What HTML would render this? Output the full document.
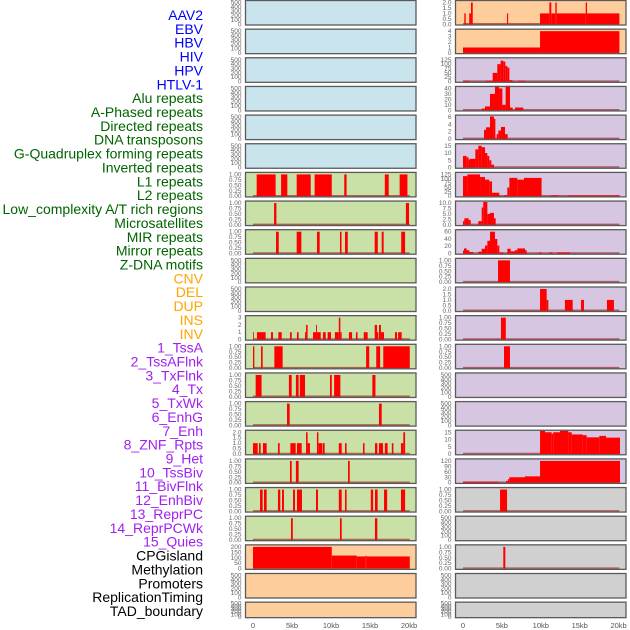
<!DOCTYPE html>
<html><head><meta charset="utf-8"><style>
body{margin:0;background:#fff;width:630px;height:630px;overflow:hidden;font-family:"Liberation Sans",sans-serif}
svg{display:block}
</style></head><body>
<svg id="chart" width="630" height="630"></svg>
<script>
const labels=["AAV2","EBV","HBV","HIV","HPV","HTLV-1","Alu repeats","A-Phased repeats","Directed repeats","DNA transposons","G-Quadruplex forming repeats","Inverted repeats","L1 repeats","L2 repeats","Low_complexity A/T rich regions","Microsatellites","MIR repeats","Mirror repeats","Z-DNA motifs","CNV","DEL","DUP","INS","INV","1_TssA","2_TssAFlnk","3_TxFlnk","4_Tx","5_TxWk","6_EnhG","7_Enh","8_ZNF_Rpts","9_Het","10_TssBiv","11_BivFlnk","12_EnhBiv","13_ReprPC","14_ReprPCWk","15_Quies","CPGisland","Methylation","Promoters","ReplicationTiming","TAD_boundary"];
const labelGroups=[6,13,5,15,5];
const groupColors=["#0000ff","#006400","#ffa500","#a020f0","#000000"];
const xTicks=[0,5,10,15,20];
const xTickLabels=["0","5kb","10kb","15kb","20kb"];
const T500=[0,100,200,300,400,500], T1=[0,0.25,0.5,0.75,1], T2=[0,0.5,1,1.5,2];
const leftTicks=[T500,T500,T500,T500,T500,T500,T1,T1,T1,T500,T500,[0,1,2,3],T1,T1,T1,T2,T1,T1,T1,[0,50,100,150,200],T500,T500];
const rightTicks=[T2,[0,1,2,3,4],[0,25,50,75,100,125],[0,10,20,30,40],[0,2,4,6],[0,5,10,15],[0,25,50,75,100,125],[0,2.5,5,7.5,10],[0,20,40,60],T1,T2,T1,T1,T500,T500,[0,5,10,15],[0,30,60,90,120],T1,T500,T1,T500,T500];
const leftBg=["#c9e4ec","#c9e4ec","#c9e4ec","#c9e4ec","#c9e4ec","#c9e4ec","#c9e1a6","#c9e1a6","#c9e1a6","#c9e1a6","#c9e1a6","#c9e1a6","#c9e1a6","#c9e1a6","#c9e1a6","#c9e1a6","#c9e1a6","#c9e1a6","#c9e1a6","#fecd9c","#fecd9c","#fecd9c"];
const rightBg=["#fecd9c","#fecd9c","#d6c6e2","#d6c6e2","#d6c6e2","#d6c6e2","#d6c6e2","#d6c6e2","#d6c6e2","#d6c6e2","#d6c6e2","#d6c6e2","#d6c6e2","#d6c6e2","#d6c6e2","#d6c6e2","#d6c6e2","#d0d0d0","#d0d0d0","#d0d0d0","#d0d0d0","#d0d0d0"];
const leftBars=[[],[],[],[],[],[],
[[0.47,2.9,1],[3.6,4.4,1],[5.6,7.4,1],[7.9,10.1,1],[11.7,12.0,1],[16.9,17.4,1],[18.8,19.8,1]],
[[2.7,3.0,1],[19.6,20.0,1]],
[[2.95,3.3,1],[5.6,6.2,1],[8.2,8.55,1],[11.15,11.35,1],[11.8,12.15,1],[15.6,16.0,1],[16.5,16.75,1],[19.0,19.5,1]],
[],[],
[[0,0.09,1],[0.51,1.62,1],[2.31,2.56,1],[3.25,3.68,1],[4.74,4.96,1],[5.64,5.85,1],[6.67,6.8,1],[6.8,7.0,2],[7.7,8.08,1],[8.08,8.2,2],[8.2,8.68,1],[8.97,9.32,1],[9.57,10.0,1],[10.5,11.0,1],[11.0,11.2,3],[11.2,11.37,1],[12.3,12.7,1],[13.2,13.4,1],[14.2,14.7,1],[15.6,15.9,2],[15.9,16.07,1],[16.15,16.4,2],[16.4,16.8,1],[18.2,18.46,1],[18.6,19.06,1]],
[[0,0.17,1],[1.03,1.24,1],[2.74,3.8,1],[14.5,14.9,1],[15.8,16.3,1],[16.7,20.1,1]],
[[0.34,1.1,1],[4.6,4.96,1],[5.5,5.85,1],[6.0,6.67,1],[9.87,10.1,1],[10.4,11.2,1],[15.3,15.7,1]],
[[4.36,4.7,1],[16.15,16.5,1]],
[[0,0.6,1],[0.77,0.98,1],[1.28,1.75,1],[3.2,3.42,1],[4.79,5.47,1],[5.64,6.24,1],[6.8,7.0,2],[7.0,7.3,1],[8.2,8.38,2],[8.38,8.9,1],[8.97,9.19,1],[11.0,11.37,1],[11.8,12.0,1],[14.1,14.3,1],[15.64,15.94,1],[16.15,16.67,1],[16.9,17.26,1],[17.8,18.0,1],[18.97,19.27,1],[19.27,19.5,2]],
[[4.74,4.96,1],[5.5,5.85,1],[12.18,12.4,1]],
[[0.9,1.24,1],[1.41,1.75,1],[3.2,3.5,1],[3.72,3.97,1],[5.13,5.38,1],[5.64,6.28,1],[8.08,8.33,1],[11.0,11.37,1],[11.8,12.0,1],[15.1,15.4,1],[15.64,15.98,1],[16.8,17.2,1],[18.97,19.5,1]],
[[4.87,5.1,1],[11.15,11.37,1],[15.64,15.94,1]],
[[0,10.1,200],[10.1,13.3,120],[13.3,14.4,112],[14.4,14.6,117],[14.6,20.1,112]],
[],[]];
const rightBars=[
[[0.17,0.35,1],[0.8,1.03,1],[1.03,1.25,2],[5.65,5.8,1],[9.9,11.1,1],[11.1,11.35,2],[11.35,11.87,1],[11.87,12.05,2],[12.05,15.77,1],[15.77,15.94,2],[15.94,20.1,1]],
[[0,9.9,1],[9.9,20.1,4]],
[[0,0.77,5],[2.96,3.81,5],[3.81,4.41,50],[4.41,4.84,100],[4.84,5.18,120],[5.18,5.44,115],[5.44,5.7,90],[5.7,5.96,80],[5.96,6.38,8],[7.07,7.97,5]],
[[2.4,2.83,3],[2.83,3.47,7],[3.47,4.11,30],[4.11,4.63,45],[4.63,5.06,40],[5.06,5.48,10],[5.48,6.04,45],[6.04,6.38,5],[6.68,7.75,5]],
[[2.7,2.96,2.5],[2.96,3.47,3.2],[3.47,3.98,6.2],[3.98,4.16,5.5],[4.33,4.54,1.3],[4.54,4.88,2.3],[4.88,5.4,3.3],[5.4,5.74,1.3]],
[[0,0.47,8],[0.47,0.73,7],[0.73,0.9,5.5],[0.9,1.59,6],[1.59,1.97,12.5],[1.97,2.4,15],[2.4,2.83,14],[2.83,3.13,10],[3.13,3.38,8],[3.38,3.64,5],[3.64,3.98,2]],
[[0,0.56,115],[0.56,2.19,125],[2.19,2.83,110],[2.83,3.38,95],[3.38,3.73,85],[3.73,4.67,20],[5.27,5.7,5],[5.7,5.96,50],[5.96,6.98,105],[6.98,7.84,95],[7.84,10.1,105],[11.3,12.3,5],[13.5,20.2,4]],
[[0,0.17,1.7],[0.17,0.73,3],[0.73,0.99,2.2],[1.97,2.4,1.7],[2.4,2.6,8],[2.6,3.13,10.5],[3.13,3.47,5],[3.47,3.98,5.5],[3.98,4.2,3]],
[[0,0.13,8],[0.13,0.47,14],[0.47,0.81,9],[0.81,1.33,4],[1.97,2.4,5],[2.4,2.83,13],[2.83,3.13,22],[3.13,3.47,35],[3.47,4.11,60],[4.11,4.41,40],[4.41,4.67,22],[4.67,5.18,3],[5.7,6.13,13],[6.13,6.68,6],[6.68,6.98,9],[6.98,7.97,14],[7.97,8.18,9],[9.77,10.1,3],[11.05,11.5,3],[12.08,13.75,3]],
[[4.5,6.04,1]],
[[9.9,10.75,2],[10.75,10.97,1],[13.1,14.1,1],[15.17,15.55,1],[18.5,19.4,1]],
[[4.88,5.5,1]],
[[5.27,6.04,1]],
[],[],
[[9.9,10.54,16],[10.54,11.4,15],[11.4,11.6,14],[11.6,12.47,15],[12.47,13.54,16],[13.54,13.97,15],[13.97,15.38,13.5],[15.38,15.9,13],[15.9,17.52,11.5],[17.52,18.38,12.5],[18.38,20.18,11.3]],
[[0,4.63,6],[5.53,5.78,10],[5.78,5.95,20],[5.95,7.97,30],[7.97,9.9,35],[9.9,20.18,120]],
[[4.76,5.66,1]],
[],
[[5.18,5.44,1]],
[],[]];
const leftBase=[6,7,8,11,12,13,14,15,16,17,18];
const rightBase=[0,2,3,4,5,6,7,8,9,10,11,12,15,16,17,19];

const NS="http://www.w3.org/2000/svg";
const svg=document.getElementById('chart');
function mk(tag,attrs,parent){const e=document.createElementNS(NS,tag);for(const k in attrs)e.setAttribute(k,attrs[k]);(parent||svg).appendChild(e);return e;}
function fmt(v,ticks){const dec=ticks.some(t=>t%1!==0);if(!dec)return String(v);const d=ticks.some(t=>t%0.5!==0&&Math.abs(t*4-Math.round(t*4))<1e-9&&t<2)?2:1;return v.toFixed(d);}

let li=0;
labelGroups.forEach((n,g)=>{for(let k=0;k<n;k++){const t=mk('text',{x:203,y:20+li*13.86,'text-anchor':'end','font-size':'14',fill:groupColors[g]});t.textContent=labels[li];

li++;}});

const cols=[{x0:245.5,x1:416,z:253,s:7.8,ticks:leftTicks,bg:leftBg,bars:leftBars,base:leftBase,name:'left'},
{x0:455.5,x1:626,z:463,s:7.78,ticks:rightTicks,bg:rightBg,bars:rightBars,base:rightBase,name:'right'}];
cols.forEach(c=>{
 const xs=kb=>c.z+kb*c.s;
 for(let i=0;i<22;i++){
  const top=0.5+28.65*i, h=(i===21?15.5:24.5);
  const ticks=c.ticks[i], tmax=ticks[ticks.length-1], ymax=tmax*1.06;
  const ys=v=>top+h-0.7-(v/ymax)*(h-1.4);
  const g=mk('g',{});
  
  
  mk('rect',{x:c.x0,y:top,width:c.x1-c.x0,height:h,fill:c.bg[i]},g);
  if(c.base.includes(i)) mk('line',{x1:xs(0),x2:xs(20.1),y1:ys(0)-0.5,y2:ys(0)-0.5,stroke:'rgba(150,0,0,0.55)','stroke-width':1.5},g);
  c.bars[i].forEach(b=>{const r=mk('rect',{x:xs(b[0]),y:ys(b[2]),width:Math.max(0.8,xs(b[1])-xs(b[0])),height:ys(0)-ys(b[2]),fill:'#ff0000'},g);
   
   });
  mk('rect',{x:c.x0,y:top,width:c.x1-c.x0,height:h,fill:'none',stroke:'#5a5a5a','stroke-width':1.3},g);
  ticks.forEach(t=>{const tx=mk('text',{x:c.x0-4,y:ys(t)+2,'text-anchor':'end','font-size':'6.5',fill:'#666'},g);tx.textContent=fmt(t,ticks);
   
   });
 }
 xTicks.forEach((t,k)=>{const tx=mk('text',{x:xs(t),y:628,'text-anchor':'middle','font-size':'7.5',fill:'#555'});tx.textContent=xTickLabels[k];
  
  });
});
</script>
</body></html>
